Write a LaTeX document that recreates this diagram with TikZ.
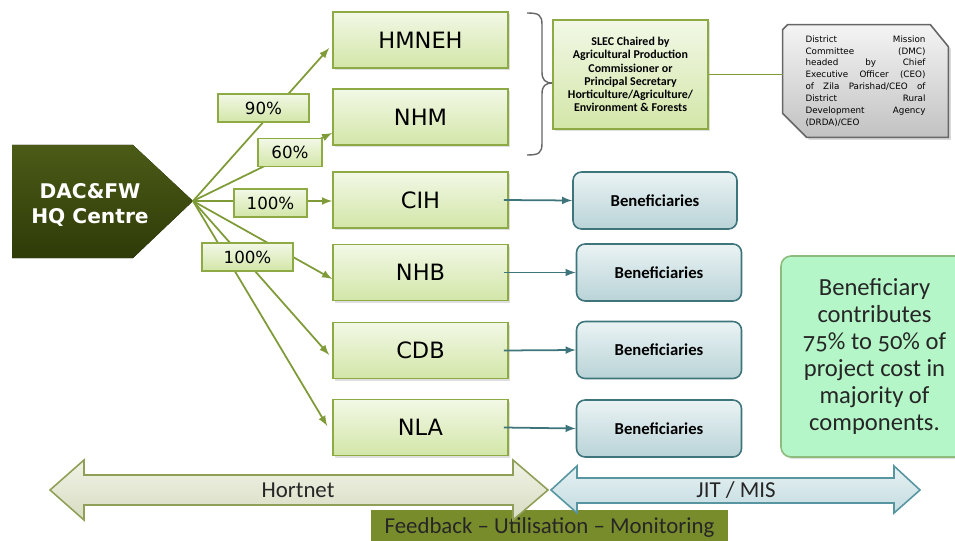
\documentclass[tikz,border=0pt]{standalone}
\usepackage{fontspec}
\setmainfont{Carlito}
\newfontfamily\dejavu{DejaVu Sans}
\newfontfamily\oldnum{Carlito}[Numbers=OldStyle]
\usepackage{xcolor}
\usetikzlibrary{positioning, calc, shadows}

\definecolor{boxtop}{HTML}{F2F8E6}
\definecolor{boxbot}{HTML}{D3E6A8}
\definecolor{boxline}{HTML}{8DAA45}
\definecolor{arrowgreen}{HTML}{7F9B38}
\definecolor{hubtop}{HTML}{4B5B17}
\definecolor{hubbot}{HTML}{2F3B08}
\definecolor{tealline}{HTML}{3E747B}
\definecolor{bentop}{HTML}{EAF3F4}
\definecolor{benbot}{HTML}{B9D3D7}
\definecolor{notefill}{HTML}{B4F6C8}
\definecolor{noteline}{HTML}{8CBB7C}
\definecolor{dmctop}{HTML}{F4F4F4}
\definecolor{dmcbot}{HTML}{C2C2C2}
\definecolor{feedfill}{HTML}{788C2B}
\definecolor{horttop}{HTML}{F1F3E6}
\definecolor{hortbot}{HTML}{D7DCC2}
\definecolor{hortline}{HTML}{909F58}
\definecolor{jittop}{HTML}{E6F1F3}
\definecolor{jitbot}{HTML}{C4DCE1}
\definecolor{jitline}{HTML}{5796A1}

\begin{document}
\begin{tikzpicture}[x=0.02cm, y=-0.02cm, >=latex,
    unit/.style={draw=boxline, line width=0.9pt, top color=boxtop, bottom color=boxbot,
      minimum width=3.5cm, minimum height=1.12cm, align=center,
      font=\dejavu\fontsize{12.8}{15}\selectfont,
      drop shadow={opacity=0.25, shadow xshift=1.2pt, shadow yshift=-1.2pt}},
    share/.style={draw=boxline, line width=0.9pt, top color=boxtop, bottom color=boxbot,
      minimum height=0.56cm, inner sep=0pt, font=\dejavu\fontsize{9.5}{11}\selectfont},
    benef/.style={draw=tealline, line width=0.9pt, rounded corners=0.17cm, top color=bentop,
      bottom color=benbot, minimum width=3.3cm, minimum height=1.14cm,
      font=\bfseries\fontsize{9.5}{11}\selectfont},
    feed/.style={->, draw=arrowgreen, line width=1pt},
    pass/.style={->, draw=tealline, line width=1pt}]
    \useasboundingbox (0,0) rectangle (955,540);

    \fill[top color=hubtop, bottom color=hubbot] (12,145) -- (133,145) -- (193,201) -- (133,258) -- (12,258) -- cycle;
    \node[align=center, text=white, font=\dejavu\bfseries\fontsize{11.5}{14.7}\selectfont] (hub) at (90,205) {DAC\&FW\\HQ Centre};
    \coordinate (hubtip) at (193,201);

    \node[unit] (hmneh) at (420.5,40) {HMNEH};
    \node[unit] (nhm) at (420.5,117) {NHM};
    \node[unit] (cih) at (420.5,200) {CIH};
    \node[unit] (nhb) at (420.5,272.5) {NHB};
    \node[unit] (cdb) at (420.5,350.5) {CDB};
    \node[unit] (nla) at (420.5,427.5) {NLA};

    \draw[feed] (hubtip) to ($(hmneh.west)+(-3,8)$);
    \draw[feed] (hubtip) to ($(nhm.west)+(0,16)$);
    \draw[feed] (hubtip) to (hubtip -| cih.west);
    \draw[feed] (hubtip) to ($(nhb.west)+(0,6.5)$);
    \draw[feed] (hubtip) to ($(cdb.west)+(-3,4.5)$);
    \draw[feed] (hubtip) to ($(nla.west)+(-5,-1.5)$);

    \node[share, minimum width=1.82cm] (p90) at (263.5,108) {90\%};
    \node[share, minimum width=1.28cm] (p60) at (290,152.5) {60\%};
    \node[share, minimum width=1.46cm] (p100a) at (270.5,203) {100\%};
    \node[share, minimum width=1.82cm] (p100b) at (247.5,257) {100\%};

    \node[benef, minimum width=3.28cm] (ben1) at (655,200.5) {Beneficiaries};
    \node[benef] (ben2) at (659,272.5) {Beneficiaries};
    \node[benef] (ben3) at (659,350) {Beneficiaries};
    \node[benef] (ben4) at (659,428.5) {Beneficiaries};

    \draw[pass] ($(cih.east)+(-5,0)$) to (ben1.west);
    \draw[pass] ($(nhb.east)+(-5,0)$) to (ben2.west);
    \draw[pass] ($(cdb.east)+(-5,0)$) to (ben3.west);
    \draw[pass] ($(nla.east)+(-5,0)$) to (ben4.west);

    \draw[black!60, line width=0.8pt] (527,13) .. controls (539,13) and (542,15) .. (542,25) -- (542,72)
      .. controls (542,80) and (545,83) .. (553,83) .. controls (545,83) and (542,86) .. (542,94)
      -- (542,143) .. controls (542,153) and (539,155) .. (527,155);

    \node[draw=boxline, line width=0.9pt, top color=boxtop, bottom color=boxbot, minimum width=3.1cm,
      minimum height=2.18cm, align=center, font=\bfseries\fontsize{6.8}{7.5}\selectfont,
      drop shadow={opacity=0.25, shadow xshift=1.2pt, shadow yshift=-1.2pt}] (slec) at (630.5,74.5)
      {SLEC Chaired by\\Agricultural Production\\Commissioner or\\Principal Secretary\\Horticulture/Agriculture/\\Environment \& Forests};

    \node[align=left, text width=2.4cm, minimum width=3.3cm, minimum height=2.24cm, inner sep=0pt,
      font=\dejavu\fontsize{5}{6.75}\selectfont] (dmc) at (865.5,81) {};
    \draw[draw=black!60, line width=0.9pt, top color=dmctop, bottom color=dmcbot,
      drop shadow={opacity=0.3, shadow xshift=1.5pt, shadow yshift=-1.5pt}]
      ($(dmc.north west)+(5,0)$) -- ($(dmc.north east)+(-18,0)$) -- ($(dmc.north east)+(0,22)$)
      -- (dmc.south east) -- ($(dmc.south west)+(24,0)$) -- ($(dmc.south west)+(0,-24)$)
      -- ($(dmc.north west)+(0,5)$) -- cycle;
    \node[align=left, text width=2.4cm, inner sep=0pt, font=\dejavu\fontsize{5}{6.75}\selectfont] at (dmc)
      {District\hfill Mission\\Committee\hfill (DMC)\\headed\hfill by\hfill Chief\\Executive\hfill Officer\hfill (CEO)\\
       of\hfill Zila\hfill Parishad/CEO\hfill of\\District\hfill Rural\\Development\hfill Agency\\(DRDA)/CEO};

    \draw[draw=arrowgreen, line width=1pt] (slec.east) to (slec.east -| dmc.west);

    \node[draw=noteline, line width=0.9pt, fill=notefill, rounded corners=0.2cm, minimum width=3.74cm,
      minimum height=4.02cm, drop shadow={opacity=0.25, shadow xshift=1.2pt, shadow yshift=-1.2pt}] (note) at (874.5,356.5) {};
    \node[align=center, font=\oldnum\fontsize{14}{15.4}\selectfont, text=black!85] at (note)
      {Beneficiary\\contributes\\75\% to 50\% of\\project cost in\\majority of\\components.};

    \node[fill=feedfill, minimum width=7.14cm, minimum height=0.7cm, inner sep=0pt,
      font=\fontsize{13}{14}\selectfont, text=black!85] (feedback) at (549.5,527.5)
      {Feedback – Utilisation – Monitoring};

    \draw[draw=hortline, line width=0.9pt, top color=horttop, bottom color=hortbot]
      (50,490) -- (84,460) -- (84,475) -- (513,475) -- (513,460) -- (548,490) -- (513,520)
      -- (513,505) -- (84,505) -- (84,520) -- cycle;
    \node[font=\fontsize{13}{15}\selectfont, text=black!85] (hortnet) at (298,490) {Hortnet};

    \draw[draw=jitline, line width=0.9pt, top color=jittop, bottom color=jitbot]
      (551,490) -- (577,466) -- (577,478) -- (894,478) -- (894,466) -- (920,490) -- (894,513)
      -- (894,503) -- (577,503) -- (577,513) -- cycle;
    \node[font=\fontsize{13}{15}\selectfont, text=black!85] (jit) at (736,490) {JIT / MIS};
\end{tikzpicture}
\end{document}
